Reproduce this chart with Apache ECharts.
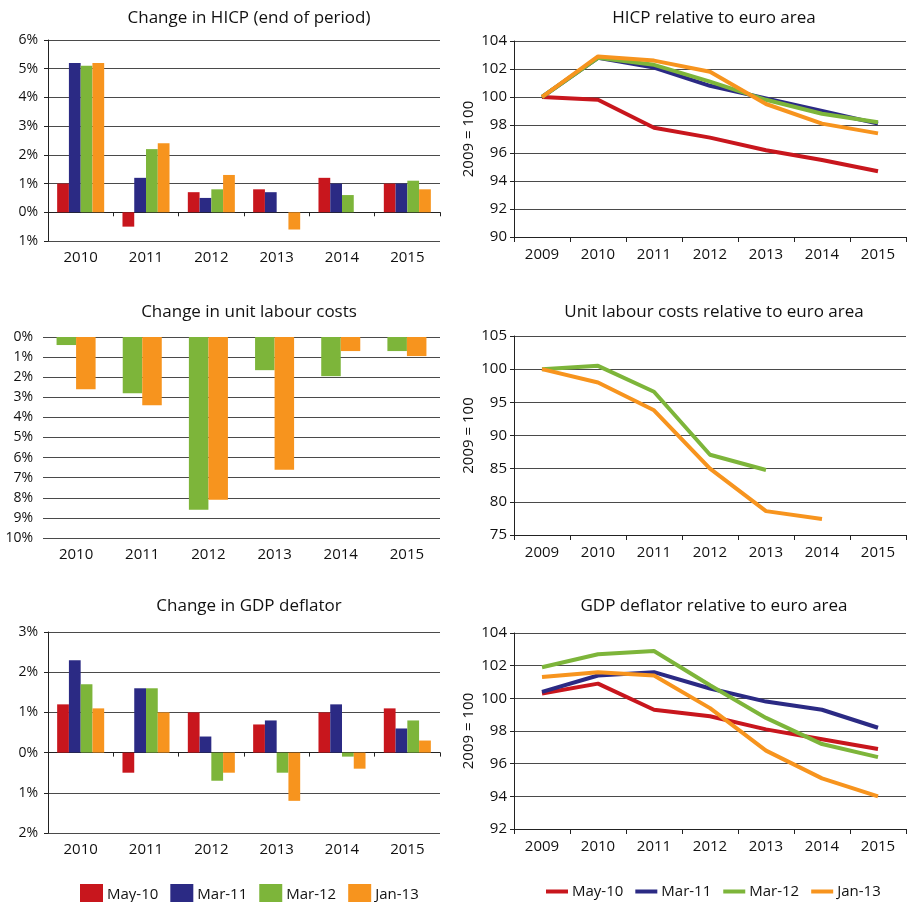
<!DOCTYPE html>
<html>
<head>
<meta charset="utf-8">
<script src="https://cdn.jsdelivr.net/npm/echarts@6/dist/echarts.min.js"></script>
<style>
html,body{margin:0;padding:0;background:#fff;}
#c{width:908px;height:902px;}
</style>
</head>
<body>
<div id="c"></div>
<script>
// ---------- data ----------
const years = ['2010', '2011', '2012', '2013', '2014', '2015'];
const yearsRel = ['2009', '2010', '2011', '2012', '2013', '2014', '2015'];
const seriesNames = ['May-10', 'Mar-11', 'Mar-12', 'Jan-13'];

const titles = [
  'Change in HICP (end of period)',
  'HICP relative to euro area',
  'Change in unit labour costs',
  'Unit labour costs relative to euro area',
  'Change in GDP deflator',
  'GDP deflator relative to euro area'
];
const relAxisName = '2009 = 100';

// Change in HICP (%)
const hicpMay10 = [1.0, -0.5, 0.7, 0.8, 1.2, 1.0];
const hicpMar11 = [5.2, 1.2, 0.5, 0.7, 1.0, 1.0];
const hicpMar12 = [5.1, 2.2, 0.8, null, 0.6, 1.1];
const hicpJan13 = [5.2, 2.4, 1.3, -0.6, null, 0.8];

// HICP relative to euro area (2009 = 100)
const hicpRelMay10 = [100, 99.8, 97.8, 97.1, 96.2, 95.5, 94.7];
const hicpRelMar11 = [100, 102.8, 102.1, 100.8, 99.9, 99.0, 98.1];
const hicpRelMar12 = [100, 102.8, 102.3, 101.1, 99.8, 98.8, 98.2];
const hicpRelJan13 = [100, 102.9, 102.6, 101.8, 99.5, 98.1, 97.4];

// Change in unit labour costs (%)
const ulcMar12 = [-0.4, -2.8, -8.6, -1.65, -1.95, -0.7];
const ulcJan13 = [-2.6, -3.4, -8.1, -6.6, -0.7, -0.95];

// Unit labour costs relative to euro area (2009 = 100)
const ulcRelMar12 = [100, 100.5, 96.6, 87.1, 84.8, null, null];
const ulcRelJan13 = [100, 98.0, 93.8, 85.0, 78.6, 77.4, null];

// Change in GDP deflator (%)
const gdpMay10 = [1.2, -0.5, 1.0, 0.7, 1.0, 1.1];
const gdpMar11 = [2.3, 1.6, 0.4, 0.8, 1.2, 0.6];
const gdpMar12 = [1.7, 1.6, -0.7, -0.5, -0.1, 0.8];
const gdpJan13 = [1.1, 1.0, -0.5, -1.2, -0.4, 0.3];

// GDP deflator relative to euro area (2009 = 100)
const gdpRelMay10 = [100.3, 100.9, 99.3, 98.9, 98.1, 97.5, 96.9];
const gdpRelMar11 = [100.4, 101.4, 101.6, 100.6, 99.8, 99.3, 98.2];
const gdpRelMar12 = [101.9, 102.7, 102.9, 100.8, 98.8, 97.2, 96.4];
const gdpRelJan13 = [101.3, 101.6, 101.4, 99.4, 96.8, 95.1, 94.0];

// ---------- styling ----------
const colors = {'May-10': '#C8161D', 'Mar-11': '#2B2A84', 'Mar-12': '#7DB53A', 'Jan-13': '#F7941E'};
const FONT = '"Open Sans", "DejaVu Sans", sans-serif';
const TXT = '#111';
const GRIDC = '#4a4a4a';
const AXC = '#222';

const chart = echarts.init(document.getElementById('c'), null, {renderer: 'canvas'});

const grids = [
  {left: 48, top: 40, width: 392, height: 201},
  {left: 514, top: 41, width: 392, height: 196},
  {left: 43, top: 337, width: 397, height: 201},
  {left: 514, top: 336, width: 392, height: 199},
  {left: 48, top: 632, width: 392, height: 201},
  {left: 514, top: 633, width: 392, height: 196}
];
const titleCenters = [[244, 5], [709, 5], [244, 299], [709, 299], [244, 593], [709, 593]];

const pct = v => Math.abs(v) + '%';

function labelAxis(gi, cats) {
  return {
    gridIndex: gi, type: 'category', data: cats, position: 'bottom',
    axisLine: {show: false, onZero: false}, axisTick: {show: false},
    axisLabel: {color: TXT, fontSize: 15, fontFamily: FONT, margin: 9},
    splitLine: {show: false}
  };
}
function zeroAxis(gi, cats) {
  return {
    gridIndex: gi, type: 'category', data: cats, position: 'top',
    axisLine: {show: true, onZero: true, lineStyle: {color: AXC, width: 1}},
    axisTick: {show: true, inside: true, length: 4, lineStyle: {color: AXC}},
    axisLabel: {show: false}, splitLine: {show: false}
  };
}
function relXAxis(gi) {
  return {
    gridIndex: gi, type: 'category', data: yearsRel, position: 'bottom',
    axisLine: {show: true, onZero: false, lineStyle: {color: AXC, width: 1}},
    axisTick: {show: true, length: 5, lineStyle: {color: AXC}},
    axisLabel: {color: TXT, fontSize: 15, fontFamily: FONT, margin: 10},
    splitLine: {show: false}
  };
}
function pctYAxis(gi, min, max, showLine) {
  return {
    gridIndex: gi, type: 'value', min: min, max: max, interval: 1,
    axisLine: {show: showLine, lineStyle: {color: AXC}},
    axisTick: {show: showLine, length: 4, lineStyle: {color: AXC}},
    axisLabel: {color: TXT, fontSize: 14, fontFamily: FONT, margin: 10, formatter: pct},
    splitLine: {show: true, lineStyle: {color: GRIDC, width: 1}}
  };
}
function relYAxis(gi, min, max, step) {
  return {
    gridIndex: gi, type: 'value', min: min, max: max, interval: step,
    name: relAxisName, nameLocation: 'middle', nameGap: 38, nameRotate: 90,
    nameTextStyle: {color: TXT, fontSize: 15, fontFamily: FONT},
    axisLine: {show: true, lineStyle: {color: AXC}},
    axisTick: {show: true, length: 4, lineStyle: {color: AXC}},
    axisLabel: {color: TXT, fontSize: 15, fontFamily: FONT, margin: 7},
    splitLine: {show: true, lineStyle: {color: GRIDC, width: 1}}
  };
}

function bar(name, data, xi, yi, gap) {
  return {
    type: 'bar', name: name, data: data, xAxisIndex: xi, yAxisIndex: yi,
    barGap: 0, barCategoryGap: gap, itemStyle: {color: colors[name]},
    emphasis: {disabled: true}, animation: false
  };
}
function line(name, data, xi, yi) {
  return {
    type: 'line', name: name, data: data, xAxisIndex: xi, yAxisIndex: yi,
    showSymbol: false, symbol: 'none', connectNulls: false,
    lineStyle: {color: colors[name], width: 4}, itemStyle: {color: colors[name]},
    emphasis: {disabled: true}, animation: false
  };
}

const option = {
  animation: false,
  textStyle: {fontFamily: FONT},
  title: titles.map((t, i) => ({
    text: t, left: titleCenters[i][0], top: titleCenters[i][1], textAlign: 'center',
    textStyle: {color: TXT, fontSize: 17, fontWeight: 500, fontFamily: FONT}
  })),
  grid: grids,
  xAxis: [
    labelAxis(0, years),      // 0
    zeroAxis(0, years),       // 1
    relXAxis(1),              // 2
    labelAxis(2, years),      // 3
    relXAxis(3),              // 4
    labelAxis(4, years),      // 5
    zeroAxis(4, years),       // 6
    relXAxis(5)               // 7
  ],
  yAxis: [
    pctYAxis(0, -1, 6, true),
    relYAxis(1, 90, 104, 2),
    pctYAxis(2, -10, 0, false),
    relYAxis(3, 75, 105, 5),
    pctYAxis(4, -2, 3, true),
    relYAxis(5, 92, 104, 2)
  ],
  legend: [
    {
      data: seriesNames, left: 75, top: 879, icon: 'rect', itemWidth: 23, itemHeight: 22,
      itemGap: 12, selectedMode: false,
      textStyle: {color: TXT, fontSize: 15, fontFamily: FONT, padding: [0, 0, 0, -1]}
    },
    {
      data: seriesNames, left: 541, top: 879, icon: 'rect', itemWidth: 22, itemHeight: 4,
      itemGap: 12, selectedMode: false,
      textStyle: {color: TXT, fontSize: 15, fontFamily: FONT, padding: [0, 0, 0, -1]}
    }
  ],
  series: [
    bar('May-10', hicpMay10, 0, 0, '28%'),
    bar('Mar-11', hicpMar11, 0, 0, '28%'),
    bar('Mar-12', hicpMar12, 0, 0, '28%'),
    bar('Jan-13', hicpJan13, 0, 0, '28%'),

    line('May-10', hicpRelMay10, 2, 1),
    line('Mar-11', hicpRelMar11, 2, 1),
    line('Mar-12', hicpRelMar12, 2, 1),
    line('Jan-13', hicpRelJan13, 2, 1),

    bar('Mar-12', ulcMar12, 3, 2, '41%'),
    bar('Jan-13', ulcJan13, 3, 2, '41%'),

    line('Mar-12', ulcRelMar12, 4, 3),
    line('Jan-13', ulcRelJan13, 4, 3),

    bar('May-10', gdpMay10, 5, 4, '28%'),
    bar('Mar-11', gdpMar11, 5, 4, '28%'),
    bar('Mar-12', gdpMar12, 5, 4, '28%'),
    bar('Jan-13', gdpJan13, 5, 4, '28%'),

    line('May-10', gdpRelMay10, 7, 5),
    line('Mar-11', gdpRelMar11, 7, 5),
    line('Mar-12', gdpRelMar12, 7, 5),
    line('Jan-13', gdpRelJan13, 7, 5)
  ]
};
chart.setOption(option);
</script>
</body>
</html>
